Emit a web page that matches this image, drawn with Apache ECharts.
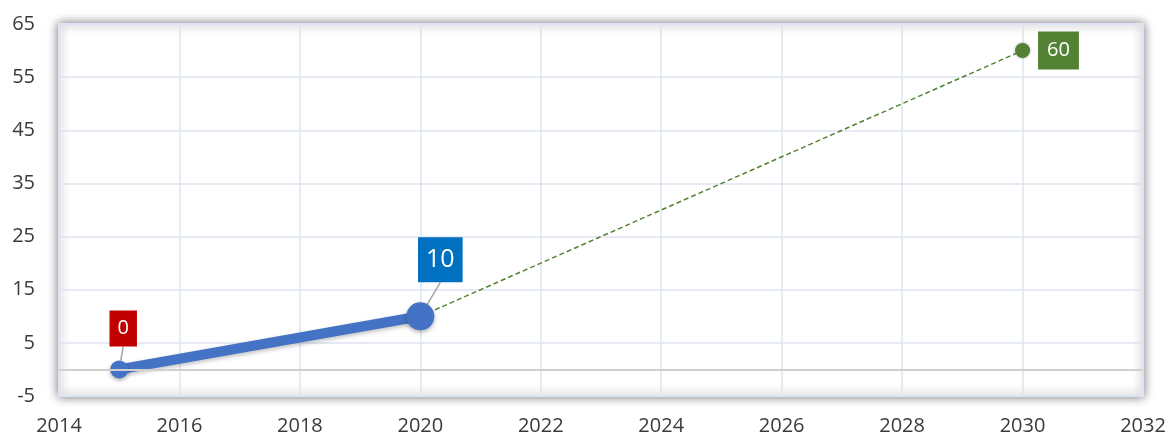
<!DOCTYPE html>
<html>
<head>
<meta charset="utf-8">
<script src="https://cdn.jsdelivr.net/npm/echarts@6/dist/echarts.min.js"></script>
<style>
  html, body { margin: 0; padding: 0; background: #fff; }
  #chart { width: 1170px; height: 436px; }
</style>
</head>
<body>
<div id="chart"></div>
<script>
// 实际值与预测值
var actualYears = [2015, 2020];
var actualValues = [0, 10];
var forecastYears = [2020, 2030];
var forecastValues = [10, 60];

var chart = echarts.init(document.getElementById('chart'));

function pairs(xs, ys) {
    return xs.map(function(x, i) { return [x, ys[i]]; });
}

var actualData = pairs(actualYears, actualValues);
var forecastData = pairs(forecastYears, forecastValues);

var FONT = 'Open Sans';

var option = {
    animation: false,
    grid: {
        left: 59, right: 27, top: 24, bottom: 39,
        show: true,
        backgroundColor: '#fff',
        borderColor: '#d9e1f2',
        borderWidth: 2,
        shadowBlur: 10,
        shadowColor: 'rgba(0,0,0,0.5)'
    },
    xAxis: {
        type: 'value',
        min: 2014, max: 2032, interval: 2,
        axisLine: { show: false },
        axisTick: { show: false },
        splitLine: { lineStyle: { color: '#dce3f2', width: 1.5 } },
        axisLabel: {
            color: '#3a3a3a', fontSize: 20, fontFamily: FONT, margin: 20,
            formatter: function(v) { return String(v); }
        }
    },
    yAxis: {
        type: 'value',
        min: -5, max: 65, interval: 10,
        axisLine: { show: false },
        axisTick: { show: false },
        splitLine: { lineStyle: { color: '#dce3f2', width: 1.5 } },
        axisLabel: { color: '#3a3a3a', fontSize: 20, fontFamily: FONT, margin: 24 }
    },
    series: [
        {
            type: 'line',
            data: forecastData.map(function(d, i) {
                var item = { value: d };
                if (i === 0) {
                    item.symbolSize = 0;
                } else {
                    item.label = {
                        show: true, position: 'right', distance: 8,
                        formatter: '{@[1]}',
                        backgroundColor: '#548235', color: '#fff',
                        fontSize: 20, fontFamily: FONT, padding: [9, 9]
                    };
                }
                return item;
            }),
            symbol: 'circle',
            symbolSize: 15,
            lineStyle: { color: '#548235', width: 1.5, type: [5, 3] },
            itemStyle: { color: '#548235', shadowBlur: 3, shadowColor: 'rgba(0,0,0,0.3)' },
            z: 2,
            markLine: {
                silent: true,
                symbol: 'none',
                label: { show: false },
                lineStyle: { color: '#d0d0d0', width: 2, type: 'solid' },
                data: [{ yAxis: 0 }]
            }
        },
        {
            type: 'line',
            data: actualData.map(function(d, i) {
                var big = i === actualData.length - 1;
                return {
                    value: d,
                    symbolSize: big ? 28 : 18,
                    label: {
                        show: true, position: 'top',
                        formatter: '{@[1]}',
                        backgroundColor: big ? '#0070c0' : '#c00000',
                        color: '#fff', fontFamily: FONT,
                        fontSize: big ? 25 : 20,
                        padding: big ? [10, 8] : [8, 8]
                    }
                };
            }),
            symbol: 'circle',
            lineStyle: { color: '#4472c4', width: 10, shadowBlur: 4, shadowColor: 'rgba(0,0,0,0.25)', shadowOffsetY: 2 },
            itemStyle: { color: '#4472c4', shadowBlur: 4, shadowColor: 'rgba(0,0,0,0.3)', shadowOffsetY: 2 },
            labelLine: { show: true, lineStyle: { color: '#a6a6a6', width: 1.5 } },
            labelLayout: function(params) {
                if (params.dataIndex === 0) return { dx: 4, dy: -9 };
                return { dx: 20, dy: -15 };
            },
            z: 3
        }
    ]
};

chart.setOption(option);
</script>
</body>
</html>
